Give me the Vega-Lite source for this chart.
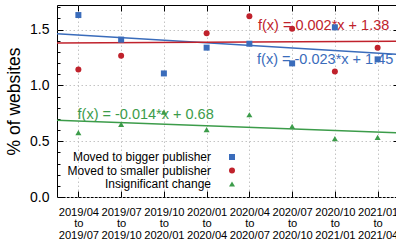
{
  "$schema": "https://vega.github.io/schema/vega-lite/v6.json",
  "autosize": {"type": "none"},
  "padding": {"left": 57, "top": 5, "right": 0, "bottom": 48},
  "width": 342,
  "height": 192,
  "background": "white",
  "config": {
    "font": "Liberation Sans",
    "view": {"stroke": "black", "strokeWidth": 1},
    "axis": {"domain": false, "labelColor": "black", "tickColor": "black", "titleColor": "black", "gridColor": "#c4c4c4", "gridDash": [1.5, 2.5], "gridWidth": 1}
  },
  "datasets": {
    "points": [
      {"idx": 0, "series": "Moved to bigger publisher", "value": 1.63},
      {"idx": 1, "series": "Moved to bigger publisher", "value": 1.41},
      {"idx": 2, "series": "Moved to bigger publisher", "value": 1.107},
      {"idx": 3, "series": "Moved to bigger publisher", "value": 1.338},
      {"idx": 4, "series": "Moved to bigger publisher", "value": 1.373},
      {"idx": 5, "series": "Moved to bigger publisher", "value": 1.197},
      {"idx": 6, "series": "Moved to bigger publisher", "value": 1.52},
      {"idx": 7, "series": "Moved to bigger publisher", "value": 1.233},
      {"idx": 0, "series": "Moved to smaller publisher", "value": 1.143},
      {"idx": 1, "series": "Moved to smaller publisher", "value": 1.266},
      {"idx": 3, "series": "Moved to smaller publisher", "value": 1.468},
      {"idx": 4, "series": "Moved to smaller publisher", "value": 1.62},
      {"idx": 5, "series": "Moved to smaller publisher", "value": 1.507},
      {"idx": 6, "series": "Moved to smaller publisher", "value": 1.125},
      {"idx": 7, "series": "Moved to smaller publisher", "value": 1.337},
      {"idx": 0, "series": "Insignificant change", "value": 0.577},
      {"idx": 1, "series": "Insignificant change", "value": 0.65},
      {"idx": 2, "series": "Insignificant change", "value": 0.76},
      {"idx": 3, "series": "Insignificant change", "value": 0.603},
      {"idx": 4, "series": "Insignificant change", "value": 0.737},
      {"idx": 5, "series": "Insignificant change", "value": 0.633},
      {"idx": 6, "series": "Insignificant change", "value": 0.523},
      {"idx": 7, "series": "Insignificant change", "value": 0.534}
    ],
    "fits": [
      {"series": "Moved to bigger publisher", "xa": -0.5, "ya": 1.4615, "xb": 7.5, "yb": 1.2775},
      {"series": "Moved to smaller publisher", "xa": -0.5, "ya": 1.379, "xb": 7.5, "yb": 1.395},
      {"series": "Insignificant change", "xa": -0.5, "ya": 0.687, "xb": 7.5, "yb": 0.575}
    ],
    "labels": [
      {"series": "Moved to smaller publisher", "lx": 4.2, "ly": 1.53, "text": "f(x) = 0.002*x + 1.38"},
      {"series": "Moved to bigger publisher", "lx": 4.18, "ly": 1.224, "text": "f(x) = -0.023*x + 1.45"},
      {"series": "Insignificant change", "lx": -0.02, "ly": 0.731, "text": "f(x) = -0.014*x + 0.68"}
    ]
  },
  "resolve": {"axis": {"x": "independent", "y": "independent"}, "scale": {"color": "independent", "shape": "independent"}},
  "layer": [
    {
      "data": {"name": "fits"},
      "mark": {"type": "rule", "strokeWidth": 1.5},
      "encoding": {
        "x": {
          "field": "xa", "type": "quantitative",
          "scale": {"domain": [-0.5, 7.5], "nice": false, "zero": false},
          "axis": {
            "orient": "bottom", "title": null, "values": [0, 1, 2, 3, 4, 5, 6, 7],
            "labelExpr": "split(['2019/04 to 2019/07','2019/07 to 2019/10','2019/10 to 2020/01','2020/01 to 2020/04','2020/04 to 2020/07','2020/07 to 2020/10','2020/10 to 2021/01','2021/01 to 2021/04'][datum.value], ' ')",
            "labelFontSize": 11.2, "labelLineHeight": 11.7, "labelBaseline": "top",
            "tickSize": -6, "labelPadding": 15, "grid": true, "labelFlush": false, "labelOverlap": false
          }
        },
        "x2": {"field": "xb"},
        "y": {
          "field": "ya", "type": "quantitative",
          "scale": {"domain": [0, 1.72], "nice": false, "zero": true},
          "axis": {
            "orient": "left", "title": "% of websites", "values": [0, 0.5, 1, 1.5],
            "labelFontSize": 14, "tickSize": -6, "labelPadding": 14, "grid": true,
            "titleFontSize": 17.5, "titleFontWeight": "normal", "titlePadding": 6, "labelFlush": false
          }
        },
        "y2": {"field": "yb"},
        "color": {
          "field": "series", "type": "nominal",
          "scale": {"domain": ["Moved to bigger publisher", "Moved to smaller publisher", "Insignificant change"], "range": ["#3a6cbb", "#c0222c", "#3c9c4a"]},
          "legend": null
        }
      }
    },
    {
      "data": {"name": "labels"},
      "mark": {"type": "text", "align": "left", "baseline": "middle", "fontSize": 14.5},
      "encoding": {
        "x": {
          "field": "lx", "type": "quantitative",
          "axis": {"orient": "top", "title": null, "values": [0, 1, 2, 3, 4, 5, 6, 7], "labels": false, "tickSize": -6, "grid": false}
        },
        "y": {
          "field": "ly", "type": "quantitative",
          "axis": {"orient": "right", "title": null, "values": [0.5, 1, 1.5], "labels": false, "tickSize": -6, "grid": false}
        },
        "text": {"field": "text"},
        "color": {
          "field": "series", "type": "nominal",
          "scale": {"domain": ["Moved to bigger publisher", "Moved to smaller publisher", "Insignificant change"], "range": ["#3a6cbb", "#c0222c", "#3c9c4a"]},
          "legend": null
        }
      }
    },
    {
      "data": {"name": "points"},
      "mark": {"type": "point", "filled": true, "opacity": 1, "size": 36},
      "encoding": {
        "x": {"field": "idx", "type": "quantitative", "axis": null},
        "y": {
          "field": "value", "type": "quantitative",
          "axis": {"orient": "left", "title": null, "values": [0.1, 0.2, 0.3, 0.4, 0.6, 0.7, 0.8, 0.9, 1.1, 1.2, 1.3, 1.4, 1.6, 1.7], "labels": false, "tickSize": -3, "grid": false}
        },
        "color": {
          "field": "series", "type": "nominal",
          "scale": {"domain": ["Moved to bigger publisher", "Moved to smaller publisher", "Insignificant change"], "range": ["#3a6cbb", "#c0222c", "#3c9c4a"]},
          "legend": {
            "title": null, "orient": "none", "legendX": 169, "legendY": 146,
            "labelAlign": "right", "labelOffset": -27, "labelFontSize": 12, "labelFontWeight": "normal", "labelLimit": 300,
            "symbolSize": 36, "rowPadding": 1.5, "labelColor": "black"
          }
        },
        "shape": {
          "field": "series", "type": "nominal",
          "scale": {"domain": ["Moved to bigger publisher", "Moved to smaller publisher", "Insignificant change"], "range": ["square", "circle", "triangle-up"]},
          "legend": {
            "title": null, "orient": "none", "legendX": 169, "legendY": 146,
            "labelAlign": "right", "labelOffset": -27, "labelFontSize": 12, "labelFontWeight": "normal", "labelLimit": 300,
            "symbolSize": 36, "rowPadding": 1.5, "labelColor": "black"
          }
        }
      }
    }
  ]
}
